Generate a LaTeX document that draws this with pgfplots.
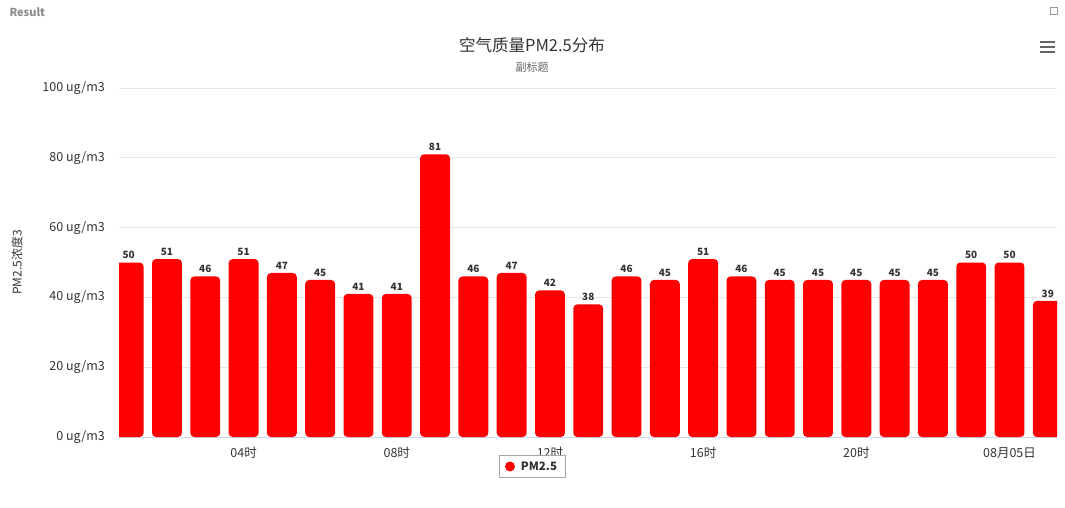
\documentclass[border=0pt]{standalone}
\usepackage{pgfplots}
\pgfplotsset{compat=1.18}
\usepackage{fontspec}
\setmainfont{Noto Sans CJK SC}
\definecolor{barred}{HTML}{FF0000}
\definecolor{gridc}{HTML}{E6E6E6}
\definecolor{axisc}{HTML}{CCD6EB}
\definecolor{txt}{HTML}{333333}
\definecolor{subc}{HTML}{666666}
\begin{document}
\begin{tikzpicture}
\path[use as bounding box] (0pt,0pt) rectangle (1065pt,507pt);
\node[anchor=west, font=\bfseries\fontsize{11}{13}\selectfont, text=black!45] at (6pt,495pt) {Result};
\node[font=\fontsize{16.5}{20}\selectfont, text=txt] at (532pt,462pt) {空气质量PM2.5分布};
\node[font=\fontsize{11}{13}\selectfont, text=subc] at (532pt,440pt) {副标题};
\draw[black!40, line width=0.8pt] (1050pt,493pt) rectangle (1057pt,500pt);
\foreach \yy in {455,460,465}{\draw[subc, line width=2.4pt] (1040pt,\yy pt) -- (1055pt,\yy pt);}
\begin{axis}[
  at={(119pt,70pt)}, anchor=south west,
  scale only axis, width=938pt, height=349pt,
  xmin=0.747, xmax=25.24, ymin=0, ymax=100,
  ybar, bar width=0.78,
  /pgf/number format/assume math mode=true,
  axis x line=bottom, axis y line=left,
  x axis line style={axisc, line width=1pt, -},
  y axis line style={draw=none},
  major tick length=0pt,
  ymajorgrids, grid style={gridc, line width=0.8pt},
  ytick={0,20,40,60,80,100},
  yticklabels={0 ug/m3,20 ug/m3,40 ug/m3,60 ug/m3,80 ug/m3,100 ug/m3},
  xtick={4,8,12,16,20,24},
  xticklabels={04时,08时,12时,16时,20时,08月05日},
  yticklabel style={font=\fontsize{12.5}{15}\selectfont, text=txt, inner sep=0pt, xshift=-14pt},
  xticklabel style={font=\fontsize{12.5}{15}\selectfont, text=txt, inner sep=0pt, yshift=-10pt},
  ylabel={PM2.5浓度3},
  ylabel style={at={(axis description cs:-0.1087,0.5)}, anchor=center, font=\fontsize{12}{14}\selectfont, text=txt},
  nodes near coords,
  every node near coord/.append style={font=\bfseries\fontsize{10}{12}\selectfont, text=txt},
  legend style={at={(0.4403,-0.0845)}, anchor=center, draw=black!35, font=\bfseries\fontsize{11.5}{13}\selectfont, text=txt, inner xsep=6pt, inner ysep=4pt, /tikz/every odd column/.append style={column sep=4pt}},
  legend image code/.code={\fill[barred] (5pt,0pt) circle (5pt);},
]
\addplot[fill=barred, draw=none, rounded corners=4pt] coordinates {
(1,50) (2,51) (3,46) (4,51) (5,47) (6,45) (7,41) (8,41) (9,81) (10,46)
(11,47) (12,42) (13,38) (14,46) (15,45) (16,51) (17,46) (18,45) (19,45) (20,45)
(21,45) (22,45) (23,50) (24,50) (25,39)};
\addlegendentry{PM2.5}
\end{axis}
\end{tikzpicture}
\end{document}
